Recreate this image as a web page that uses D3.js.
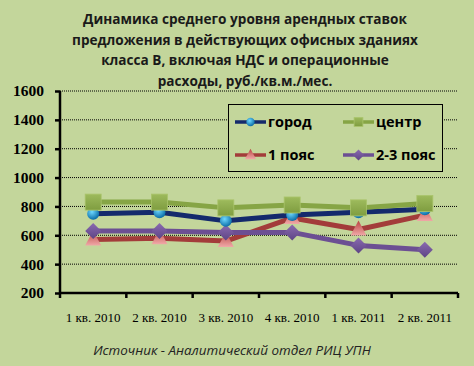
<!DOCTYPE html>
<html><head><meta charset="utf-8">
<script src="https://cdn.jsdelivr.net/npm/d3@7"></script>
<style>body{margin:0;background:#c3d69b}svg{display:block}</style>
</head><body>
<script>
const categories = ["1 кв. 2010","2 кв. 2010","3 кв. 2010","4 кв. 2010","1 кв. 2011","2 кв. 2011"];
const gorod = [750, 760, 700, 740, 760, 780];
const centr = [830, 830, 790, 810, 790, 820];
const poyas1 = [570, 580, 560, 720, 640, 740];
const poyas23 = [630, 630, 620, 620, 530, 500];
const yTicks = [200, 400, 600, 800, 1000, 1200, 1400, 1600];
const titleLines = ["Динамика среднего уровня арендных ставок","предложения в действующих офисных зданиях","класса В, включая НДС и операционные","расходы, руб./кв.м./мес."];
const source = "Источник - Аналитический отдел РИЦ УПН";

const W=474,H=366;
const svg=d3.select("body").append("svg").attr("width",W).attr("height",H);
svg.append("rect").attr("width",W).attr("height",H).attr("fill","#c3d69b");
const defs=svg.append("defs");
function radial(id,c1,c2){const g=defs.append("radialGradient").attr("id",id).attr("cx","40%").attr("cy","35%").attr("r","65%");
 g.append("stop").attr("offset","0%").attr("stop-color",c1);g.append("stop").attr("offset","100%").attr("stop-color",c2);}
radial("gBlue","#6fd8ff","#0b6ea8");
function linear(id,c1,c2){const g=defs.append("linearGradient").attr("id",id).attr("x1",0).attr("y1",0).attr("x2",0).attr("y2",1);
 g.append("stop").attr("offset","0%").attr("stop-color",c1);g.append("stop").attr("offset","100%").attr("stop-color",c2);}
linear("gGreen","#9dba5c","#7f9d40");
linear("gRed","#b8423f","#f0a9a8");
linear("gPurple","#8a6ab0","#5e4585");

const x0=60,x1=458,yTop=91,yBot=293;
const x=d3.scaleBand().domain(categories).range([x0,x1]);
const y=d3.scaleLinear().domain([200,1600]).range([yBot,yTop]);

// title
const t=svg.append("text").attr("text-anchor","middle").attr("font-family","Open Sans, sans-serif").attr("font-weight","bold").attr("font-size",13.6).attr("fill","#1a1a1a");
titleLines.forEach((l,i)=>t.append("tspan").attr("x",245).attr("y",24+i*20.6).text(l));

// gridlines
svg.append("g").selectAll("line").data(yTicks.filter(d=>d>200)).join("line")
 .attr("x1",x0).attr("x2",x1).attr("y1",d=>y(d)).attr("y2",d=>y(d))
 .attr("stroke","#000").attr("stroke-width",1).attr("stroke-dasharray","1,1");

// axes
const ya=svg.append("g").attr("transform",`translate(${x0},0)`).call(d3.axisLeft(y).tickValues(yTicks).tickSize(5).tickPadding(11).tickFormat(d3.format("d")));
ya.select(".domain").attr("stroke","#000").attr("stroke-width",2.5).attr("d",`M0,${yTop}V${yBot}`);
ya.selectAll(".tick line").attr("stroke","#000").attr("stroke-width",2.5);
ya.selectAll("text").attr("font-family","Liberation Serif, serif").attr("font-weight","bold").attr("font-size",15.5).attr("fill","#000");

const xa=svg.append("g").attr("transform",`translate(0,${yBot})`).call(d3.axisBottom(x).tickSize(0).tickPadding(20));
xa.select(".domain").attr("stroke","#000").attr("stroke-width",2.5).attr("d",`M${x0},0H${x1}`);
xa.selectAll("text").attr("font-family","Liberation Serif, serif").attr("font-size",13).attr("fill","#000");
svg.append("g").selectAll("line").data(d3.range(categories.length+1)).join("line")
 .attr("x1",i=>x0+i*x.step()).attr("x2",i=>x0+i*x.step()).attr("y1",yBot).attr("y2",yBot+5)
 .attr("stroke","#000").attr("stroke-width",2.5);

const cx=d=>x(d)+x.bandwidth()/2;
const series=[
 {name:"1 пояс",vals:poyas1,color:"#a33c3a",marker:"tri",fill:"url(#gRed)"},
 {name:"2-3 пояс",vals:poyas23,color:"#6c4f93",marker:"dia",fill:"url(#gPurple)"},
 {name:"город",vals:gorod,color:"#142a6c",marker:"circ",fill:"url(#gBlue)"},
 {name:"центр",vals:centr,color:"#86a545",marker:"sq",fill:"url(#gGreen)"}
];
function drawMarker(g,type,fill,px,py,s){
 s=s||1;
 if(type==="circ") g.append("circle").attr("cx",px).attr("cy",py).attr("r",6*s).attr("fill",fill);
 else if(type==="sq") g.append("rect").attr("x",px-8*s).attr("y",py-8*s).attr("width",16*s).attr("height",16*s).attr("fill",fill).attr("stroke","#a9c46a").attr("stroke-width",0.8);
 else if(type==="tri") g.append("path").attr("d",`M${px},${py-9*s}L${px+8*s},${py+6*s}L${px-8*s},${py+6*s}Z`).attr("fill",fill);
 else if(type==="dia") g.append("path").attr("d",`M${px},${py-8*s}L${px+8*s},${py}L${px},${py+8*s}L${px-8*s},${py}Z`).attr("fill",fill);
}
const line=d3.line().x((d,i)=>cx(categories[i])).y(d=>y(d));
series.forEach(s=>{
 const g=svg.append("g");
 g.append("path").attr("d",line(s.vals)).attr("fill","none").attr("stroke",s.color).attr("stroke-width",5).attr("stroke-linejoin","round");
 s.vals.forEach((v,i)=>drawMarker(g,s.marker,s.fill,cx(categories[i]),y(v)));
});

// legend
const lg=svg.append("g");
lg.append("rect").attr("x",228.5).attr("y",104.5).attr("width",214).attr("height",67).attr("fill","#c3d69b").attr("stroke","#000").attr("stroke-width",1);
const legendItems=[
 {s:series[2],lx:235,ly:122},{s:series[3],lx:343,ly:122},{s:series[0],lx:235,ly:155},{s:series[1],lx:343,ly:155}];
legendItems.forEach(it=>{
 lg.append("line").attr("x1",it.lx).attr("x2",it.lx+31).attr("y1",it.ly).attr("y2",it.ly).attr("stroke",it.s.color).attr("stroke-width",3.5);
 drawMarker(lg,it.s.marker,it.s.fill,it.lx+15.5,it.ly,it.s.marker==="sq"?0.55:0.7);
 lg.append("text").attr("x",it.lx+33).attr("y",it.ly+5).attr("font-family","Open Sans, sans-serif").attr("font-weight","bold").attr("font-size",14.5).attr("fill","#000").text(it.s.name);
});

// source
svg.append("text").attr("x",232).attr("y",355).attr("text-anchor","middle").attr("font-family","Open Sans, sans-serif").attr("font-style","italic").attr("font-size",13.4).attr("fill","#222").text(source);
</script>
</body></html>
